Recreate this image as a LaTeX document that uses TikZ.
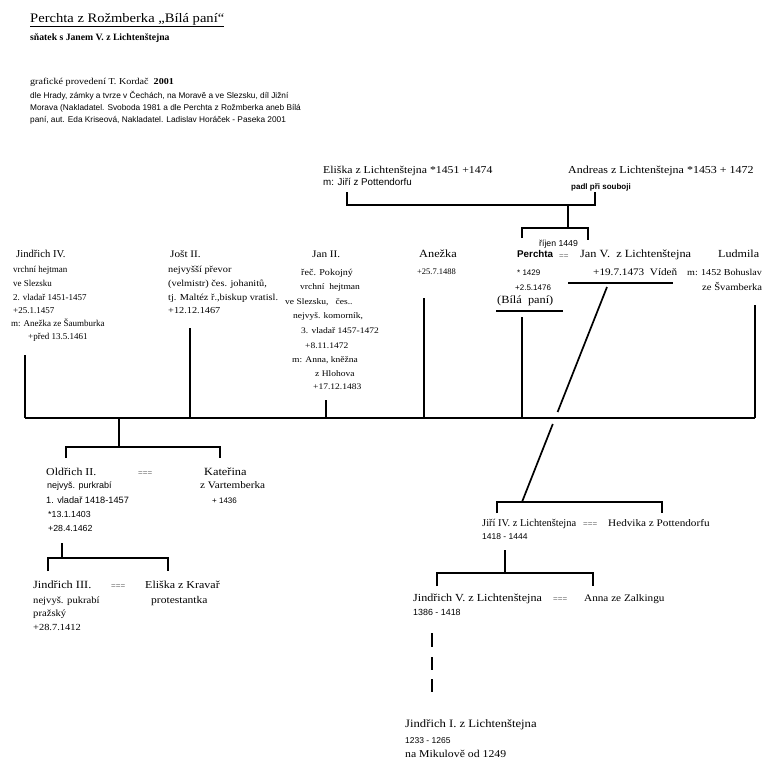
\documentclass[tikz,border=0pt]{standalone}
\usepackage{fontspec}
\setmainfont{Liberation Serif}
\newfontfamily\pal[FakeStretch=1.12]{Liberation Serif}
\newfontfamily\tms{Liberation Serif}
\newfontfamily\sns{Liberation Sans}
\newcommand\fsz[1]{\fontsize{#1}{#1}\selectfont}
\tikzset{
 lbl/.style={anchor=west, inner sep=0pt, text height=0.7em, text depth=0.2em},
 nm/.style={lbl, font=\pal\fsz{#1}}, nm/.default=10,
 nmn/.style={lbl, font=\tms\fsz{#1}}, nmn/.default=10,
 dt/.style={lbl, font=\tms\fsz{#1}}, dt/.default=9,
 dj/.style={lbl, font=\pal\fsz{#1}}, dj/.default=8.5,
 sd/.style={lbl, font=\sns\fsz{#1}}, sd/.default=8,
 eqs/.style={lbl, font=\sns\fsz{8}, text=black!60},
 ln/.style={line width=1.7pt},
}
\begin{document}
\begin{tikzpicture}[x=1pt,y=-1pt]
\fill[white] (0,0) rectangle (768,771);
\useasboundingbox (0,0) rectangle (768,771);
% header
\node[lbl,font=\pal\fsz{13}] (title) at (30,20) {Perchta z Rožmberka „Bílá paní“};
\draw[line width=0.8pt] ([yshift=-1.5pt]title.south west) -- ([yshift=-1.5pt]title.south east);
\node[lbl,font=\bfseries\fsz{9.7}] (sub) at (30,38) {sňatek s Janem V. z Lichtenštejna};
\node[lbl,font=\pal\fsz{9}] (graf) at (30,82) {grafické provedení T. Kordač~~\textbf{2001}};
\node[sd=8.3] (src1) at (30,96) {dle Hrady, zámky a tvrze v Čechách, na Moravě a ve Slezsku, díl Jižní};
\node[sd=8.3] (src2) at (30,108) {Morava (Nakladatel. Svoboda 1981 a dle Perchta z Rožmberka aneb Bílá};
\node[sd=8.3] (src3) at (30,120) {paní, aut. Eda Kriseová, Nakladatel. Ladislav Horáček - Paseka 2001};
% top generation
\node[nm=10.5] (eliska) at (323,171) {Eliška z Lichtenštejna *1451 +1474};
\node[sd=9.8] (eliskam) at (323,183) {m: Jiří z Pottendorfu};
\node[nm=10.7] (andreas) at (568,171) {Andreas z Lichtenštejna *1453 + 1472};
\node[lbl,font=\sns\bfseries\fsz{8}] (andreasm) at (571,187) {padl při souboji};
% Perchta and Jan V
\node[sd=8.7] (rijen) at (539,244) {říjen 1449};
\node[lbl,font=\sns\bfseries\fsz{9.8}] (perchta) at (517,255) {Perchta};
\node[eqs] (eq0) at (559,256) {==};
\node[nm=11] (janv) at (580,255) {Jan V.~ z Lichtenštejna};
\node[nm=10.8] (ludmila) at (718,255) {Ludmila};
\node[sd] (p1) at (517,273) {* 1429};
\node[dj=10] (janv1) at (593,273) {+19.7.1473~ Vídeň};
\node[dj=9] (lud1) at (687,273) {m: 1452 Bohuslav};
\node[dj=9.5] (lud2) at (702,288) {ze Švamberka};
\node[sd] (p2) at (515,288) {+2.5.1476};
\node[nm=11] (bila) at (497,301) {(Bílá~ paní)};
% Jindrich IV
\node[nmn=10.6] (j4) at (16,255) {Jindřich IV.};
\node[dt] (j4a) at (13,270) {vrchní hejtman};
\node[dt] (j4b) at (13,284) {ve Slezsku};
\node[dt] (j4c) at (13,298) {2. vladař 1451-1457};
\node[dt] (j4d) at (13,311) {+25.1.1457};
\node[dt] (j4e) at (11,324) {m: Anežka ze Šaumburka};
\node[dt] (j4f) at (28,337) {+před 13.5.1461};
% Jost II
\node[nm] (jost) at (170,255) {Jošt II.};
\node[dj=9.2] (jo1) at (168,270) {nejvyšší převor};
\node[dj=9.2] (jo2) at (168,284) {(velmistr) čes. johanitů,};
\node[dj=9.2] (jo3) at (168,298) {tj. Maltéz ř.,biskup vratisl.};
\node[dj=9.2] (jo4) at (168,311) {+12.12.1467};
% Jan II
\node[nm] (jan2) at (312,255) {Jan II.};
\node[dj=9] (ja1) at (301,273) {řeč. Pokojný};
\node[dj] (ja2) at (300,287) {vrchní~ hejtman};
\node[dj] (ja3) at (285,302) {ve Slezsku,~~ čes..};
\node[dj] (ja4) at (293,316) {nejvyš. komorník,};
\node[dj] (ja5) at (301,331) {3. vladař 1457-1472};
\node[dj] (ja6) at (305,346) {+8.11.1472};
\node[dj] (ja7) at (292,360) {m: Anna, kněžna};
\node[dj] (ja8) at (315,374) {z Hlohova};
\node[dj] (ja9) at (313,387) {+17.12.1483};
% Anezka
\node[nm=11] (anezka) at (419,255) {Anežka};
\node[dt=8.5] (an1) at (417,272) {+25.7.1488};
% Oldrich II
\node[nm=10.6] (old) at (46,473) {Oldřich II.};
\node[eqs] (eq1) at (138,473) {===};
\node[nm=11] (kat) at (204,473) {Kateřina};
\node[sd=9] (old1) at (47,486) {nejvyš. purkrabí};
\node[sd=9.2] (old2) at (46,501) {1. vladař 1418-1457};
\node[sd=8.8] (old3) at (48,515) {*13.1.1403};
\node[sd=8.8] (old4) at (48,529) {+28.4.1462};
\node[dj=10] (kat1) at (200,486) {z Vartemberka};
\node[sd] (kat2) at (212,501) {+ 1436};
% Jindrich III
\node[nm=11] (j3) at (33,586) {Jindřich III.};
\node[eqs] (eq2) at (111,586) {===};
\node[nm=10.7] (el2) at (145,586) {Eliška z Kravař};
\node[dj=9.5] (j3a) at (33,601) {nejvyš. pukrabí};
\node[dj=9.5] (j3b) at (33,614) {pražský};
\node[dj=9.3] (j3c) at (33,628) {+28.7.1412};
\node[dj=10.3] (el2a) at (151,601) {protestantka};
% Jiri IV
\node[nmn=10.4] (jiri) at (482,524) {Jiří IV. z Lichtenštejna};
\node[eqs] (eq3) at (583,524) {===};
\node[nm] (hed) at (608,524) {Hedvika z Pottendorfu};
\node[sd=8.5] (jiri1) at (482,537) {1418 - 1444};
% Jindrich V
\node[nm=10.8] (j5) at (413,599) {Jindřich V. z Lichtenštejna};
\node[eqs] (eq4) at (553,599) {===};
\node[nm] (anna) at (584,599) {Anna ze Zalkingu};
\node[sd=8.9] (j5a) at (413,613) {1386 - 1418};
% Jindrich I
\node[nm=11.3] (j1) at (405,725) {Jindřich I. z Lichtenštejna};
\node[sd=8.5] (j1a) at (405,741) {1233 - 1265};
\node[dj=10.5] (j1b) at (405,755) {na Mikulově od 1249};

% ---------- connectors ----------
\coordinate (eaL) at (347,192); \coordinate (eaM) at (568,205); \coordinate (eaR) at (595,192);
\draw[ln] (eaL) |- (eaM) -| (eaR);
\coordinate (pjL) at (522,238); \coordinate (pjM) at (568,228); \coordinate (pjR) at (588,240);
\draw[ln] (pjL) |- (pjM) -| (pjR);
\draw[ln] (eaM) -- (pjM);
\coordinate (bilaL) at (496,311); \coordinate (bilaR) at (563,311);
\draw[ln] (bilaL) -- (bilaR);
\coordinate (janL) at (568,283); \coordinate (janR) at (673,283);
\draw[ln] (janL) -- (janR);
% main line
\coordinate (mL) at (25,418); \coordinate (mR) at (755,418);
\draw[ln] (mL) -- (mR);
\coordinate (v1) at (25,355); \draw[ln] (v1) -- (mL);
\coordinate (v2) at (190,328); \coordinate (v2b) at (190,418); \draw[ln] (v2) -- (v2b);
\coordinate (v3) at (326,400); \coordinate (v3b) at (326,418); \draw[ln] (v3) -- (v3b);
\coordinate (v4) at (424,298); \coordinate (v4b) at (424,418); \draw[ln] (v4) -- (v4b);
\coordinate (v5) at (522,317); \coordinate (v5b) at (522,418); \draw[ln] (v5) -- (v5b);
\coordinate (v6) at (755,305); \draw[ln] (v6) -- (mR);
% diagonal Jan V -> Jiri IV
\coordinate (dA) at (607,287); \coordinate (dB) at (557.6,412);
\coordinate (dC) at (552.8,424); \coordinate (dD) at (522,502);
\draw[ln] (dA) -- (dB);
\draw[ln] (dC) -- (dD);
% Oldrich
\coordinate (oT) at (119,418); \coordinate (oM) at (119,447);
\draw[ln] (oT) -- (oM);
\coordinate (oL) at (66,458); \coordinate (oR) at (220,458);
\draw[ln] (oL) |- (oM) -| (oR);
\coordinate (o2T) at (62,543); \coordinate (o2M) at (62,558);
\draw[ln] (o2T) -- (o2M);
\coordinate (o2L) at (48,571); \coordinate (o2R) at (168,571);
\draw[ln] (o2L) |- (o2M) -| (o2R);
% Jiri bracket
\coordinate (jL) at (497,513); \coordinate (jR) at (662,513);
\draw[ln] (jL) |- (dD) -| (jR);
\coordinate (j2T) at (505,550); \coordinate (j2M) at (505,573);
\draw[ln] (j2T) -- (j2M);
\coordinate (j2L) at (437,586); \coordinate (j2R) at (593,586);
\draw[ln] (j2L) |- (j2M) -| (j2R);
% dashes
\coordinate (d1a) at (432,633); \coordinate (d1b) at (432,647);
\coordinate (d2a) at (432,657); \coordinate (d2b) at (432,670);
\coordinate (d3a) at (432,679); \coordinate (d3b) at (432,692);
\draw[ln] (d1a) -- (d1b) (d2a) -- (d2b) (d3a) -- (d3b);
\end{tikzpicture}
\end{document}
